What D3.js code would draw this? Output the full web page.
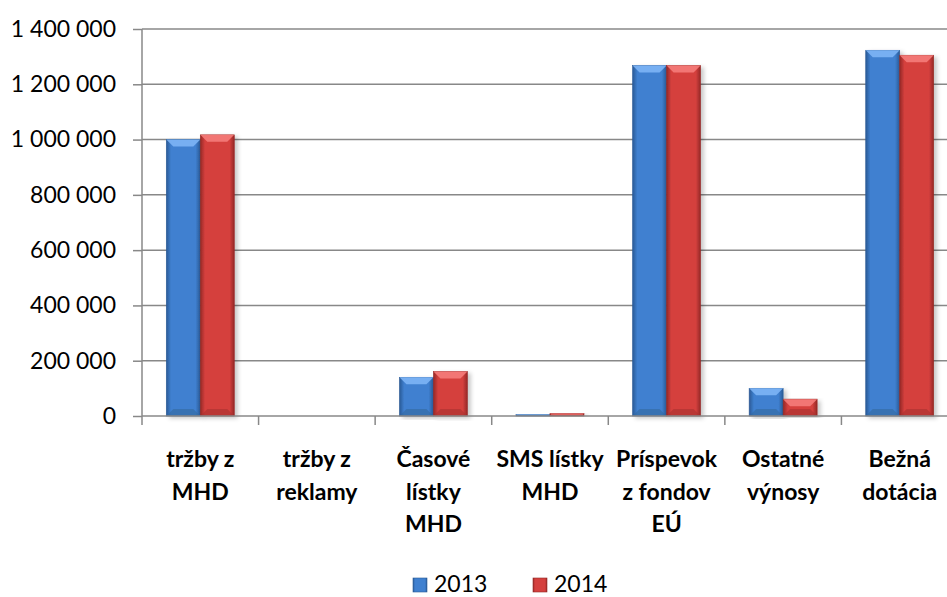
<!DOCTYPE html>
<html>
<head>
<meta charset="utf-8">
<script src="https://cdn.jsdelivr.net/npm/d3@7"></script>
<style>
  body { margin: 0; background: #fff; }
  svg { display: block; font-family: Lato, "Open Sans", sans-serif; }
</style>
</head>
<body>
<svg id="chart"></svg>
<script>
const categories = [
  ['tržby z', 'MHD'],
  ['tržby z', 'reklamy'],
  ['Časové', 'lístky', 'MHD'],
  ['SMS lístky', 'MHD'],
  ['Príspevok', 'z fondov', 'EÚ'],
  ['Ostatné', 'výnosy'],
  ['Bežná', 'dotácia']
];
const series = ['2013', '2014'];
const values2013 = [1000000, 0, 140000, 5000, 1268000, 100000, 1323000];
const values2014 = [1017000, 0, 161000, 9000, 1268000, 61000, 1305000];
const yTicks = [0, 200000, 400000, 600000, 800000, 1000000, 1200000, 1400000];

const width = 947;
const height = 597;
const plotLeft = 142, plotRight = 958, plotTop = 29, plotBottom = 416;
const fontSize = '23px';

const svg = d3.select('#chart').attr('width', width).attr('height', height);

const rows = categories.map((c, i) => ({ i: i, vals: [values2013[i], values2014[i]] }));

const x0 = d3.scaleBand().domain(d3.range(categories.length)).range([plotLeft, plotRight]);
const gap = 24.3;
const x1 = d3.scaleBand().domain(series).range([gap, x0.bandwidth() - gap]);
const y = d3.scaleLinear().domain([0, 1400000]).range([plotBottom, plotTop]);

const fmt = (d) => d3.format(',')(d).replace(/,/g, ' ');

// gradients
const defs = svg.append('defs');
const palette = {
  '2013': { dark: '#2a5a96', mid: '#3f80d0', top: '#7db4f5', bot: '#34699f' },
  '2014': { dark: '#952826', mid: '#d5403e', top: '#f57c7a', bot: '#a83230' }
};
series.forEach((s) => {
  const g = defs.append('linearGradient').attr('id', 'g' + s)
    .attr('x1', '0').attr('x2', '1').attr('y1', '0').attr('y2', '0');
  g.append('stop').attr('offset', '0%').attr('stop-color', palette[s].dark);
  g.append('stop').attr('offset', '14%').attr('stop-color', palette[s].mid);
  g.append('stop').attr('offset', '86%').attr('stop-color', palette[s].mid);
  g.append('stop').attr('offset', '100%').attr('stop-color', palette[s].dark);
});
const shadow = defs.append('filter').attr('id', 'shadow')
  .attr('x', '-20%').attr('y', '-5%').attr('width', '150%').attr('height', '115%');
shadow.append('feDropShadow').attr('dx', 3).attr('dy', 2).attr('stdDeviation', 2)
  .attr('flood-color', '#000').attr('flood-opacity', 0.22);

// gridlines
svg.append('g')
  .selectAll('line')
  .data(yTicks.filter((d) => d > 0))
  .enter()
  .append('line')
  .attr('x1', plotLeft).attr('x2', plotRight)
  .attr('y1', (d) => y(d)).attr('y2', (d) => y(d))
  .attr('stroke', '#888').attr('stroke-width', 1.5);

// bars
const groups = svg.append('g')
  .selectAll('g')
  .data(rows)
  .enter()
  .append('g')
  .attr('transform', (d) => 'translate(' + x0(d.i) + ',0)');

const bars = groups.selectAll('g')
  .data((d) => d.vals.map((v, k) => ({ s: series[k], v: v })).filter((b) => b.v > 0))
  .enter()
  .append('g');

bars.append('rect')
  .attr('x', (d) => x1(d.s))
  .attr('y', (d) => y(d.v))
  .attr('width', x1.bandwidth())
  .attr('height', (d) => y(0) - y(d.v))
  .attr('fill', (d) => 'url(#g' + d.s + ')')
  .attr('stroke', (d) => palette[d.s].dark)
  .attr('stroke-width', 0.6)
  .attr('filter', 'url(#shadow)');

// top and bottom bevels
const bevel = (d, atTop) => {
  const bx = x1(d.s), bw = x1.bandwidth(), by = y(d.v);
  const h = Math.min(7, (y(0) - by) / 2);
  const e = atTop ? by : y(0);
  const inner = atTop ? by + h : y(0) - h;
  return 'M' + bx + ',' + e + 'L' + (bx + bw) + ',' + e +
    'L' + (bx + bw - h) + ',' + inner + 'L' + (bx + h) + ',' + inner + 'Z';
};
bars.append('path')
  .attr('d', (d) => bevel(d, true))
  .attr('fill', (d) => palette[d.s].top)
  .attr('opacity', 0.9);
bars.append('path')
  .attr('d', (d) => bevel(d, false))
  .attr('fill', (d) => palette[d.s].bot)
  .attr('opacity', 0.6);

// y axis
const yAxis = d3.axisLeft(y).tickValues(yTicks).tickFormat(fmt).tickSize(9).tickPadding(17);
const ya = svg.append('g').attr('transform', 'translate(' + plotLeft + ',0)').call(yAxis);
ya.select('.domain').attr('stroke', '#888').attr('stroke-width', 1.5).attr('d', 'M0,' + plotTop + 'V' + plotBottom);
ya.selectAll('.tick line').attr('stroke', '#888').attr('stroke-width', 1.5);
ya.selectAll('.tick text').attr('font-size', fontSize).attr('fill', '#000')
  .attr('font-family', 'Lato, "Open Sans", sans-serif');

// x axis
const xa = svg.append('g').attr('transform', 'translate(0,' + plotBottom + ')');
xa.append('line').attr('x1', plotLeft).attr('x2', plotRight).attr('stroke', '#888').attr('stroke-width', 1.5);
xa.selectAll('.xt')
  .data(d3.range(categories.length + 1))
  .enter()
  .append('line')
  .attr('x1', (d) => plotLeft + d * x0.step()).attr('x2', (d) => plotLeft + d * x0.step())
  .attr('y1', 0).attr('y2', 9)
  .attr('stroke', '#888').attr('stroke-width', 1.5);

const labels = xa.selectAll('text.cat')
  .data(categories)
  .enter()
  .append('text')
  .attr('class', 'cat')
  .attr('text-anchor', 'middle')
  .attr('font-size', fontSize)
  .attr('font-weight', 'bold')
  .attr('fill', '#000')
  .attr('transform', (d, i) => 'translate(' + (x0(i) + x0.bandwidth() / 2) + ',0)');
labels.selectAll('tspan')
  .data((d) => d)
  .enter()
  .append('tspan')
  .attr('x', 0)
  .attr('y', (d, k) => 51 + k * 32.5)
  .text((d) => d);

// legend
const legend = svg.append('g').attr('transform', 'translate(413,578)');
const li = legend.selectAll('g')
  .data(series)
  .enter()
  .append('g')
  .attr('transform', (d, k) => 'translate(' + k * 120 + ',0)');
li.append('rect').attr('width', 14).attr('height', 14)
  .attr('fill', (d) => 'url(#g' + d + ')').attr('stroke', (d) => palette[d].dark).attr('stroke-width', 0.6);
li.append('text').attr('x', 21).attr('y', 14).attr('font-size', fontSize).attr('fill', '#000').text((d) => d);
</script>
</body>
</html>
